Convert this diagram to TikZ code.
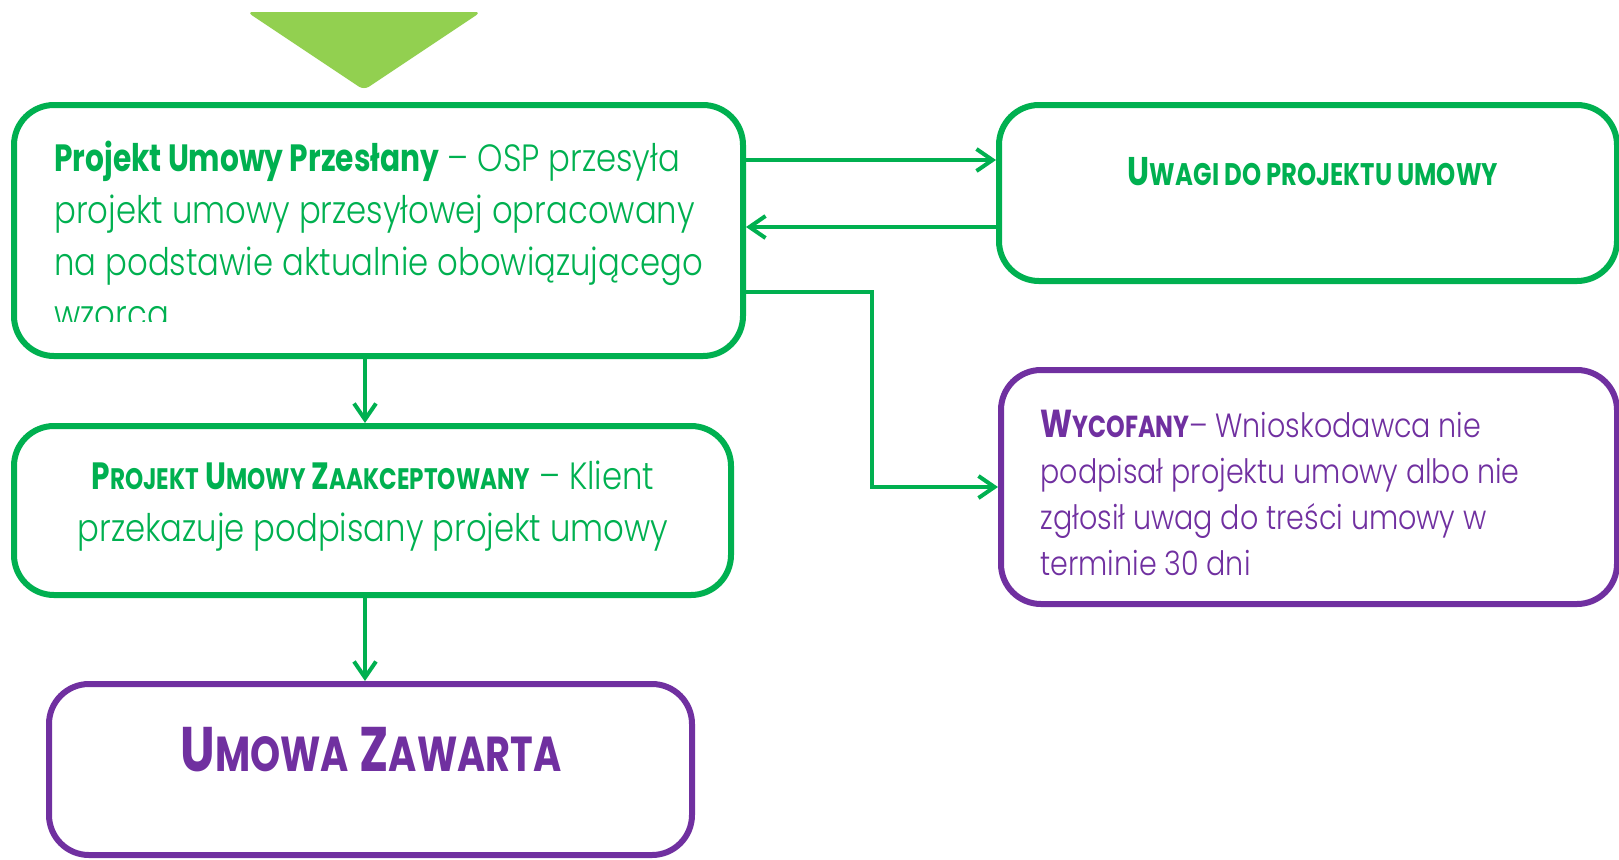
\documentclass[tikz,border=0pt]{standalone}
\usepackage{fontspec}
\setmainfont{Poppins}[UprightFont=* Light,BoldFont=* Bold,UprightFeatures={FakeStretch=0.85},BoldFeatures={FakeStretch=0.78}]
\usetikzlibrary{arrows.meta}
\definecolor{zielony}{HTML}{00B050}
\definecolor{jasnozielony}{HTML}{92D050}
\definecolor{fiolet}{HTML}{7030A0}
\makeatletter
\newcommand\kap[1]{{\dimen@=\f@size pt\dimen@=.78\dimen@\fontsize{\the\dimen@}{\the\baselineskip}\selectfont#1}}
\makeatother
\begin{document}
\begin{tikzpicture}[x=0.5pt,y=-0.5pt,
	ramka/.style={draw=#1,line width=3pt,rounded corners=20pt,inner sep=0pt},
	tekst/.style={inner sep=0pt,text=#1},
	strzalka/.style={zielony,line width=2pt,-{Straight Barb[length=8pt,width=11pt,line width=2pt]}}]
	\useasboundingbox (0,0) rectangle (1619,859);
	\fill[jasnozielony,rounded corners=3pt] (247,12) -- (481,12) -- (364,90) -- cycle;
	\node[ramka=zielony,minimum width=364.5pt,minimum height=125.5pt] (przeslany) at (378.5,230.5) {};
	\node[ramka=zielony,minimum width=309pt,minimum height=88pt] (uwagi) at (1308,193) {};
	\node[ramka=fiolet,minimum width=308pt,minimum height=117pt] (wycofany) at (1309,487) {};
	\node[ramka=zielony,minimum width=358.5pt,minimum height=84.5pt] (zaakceptowany) at (372.5,510.5) {};
	\node[ramka=fiolet,minimum width=321.5pt,minimum height=85.5pt] (zawarta) at (370.5,769.5) {};
	\begin{scope}
		\clip (30,120) rectangle (730,321.5);
		\node[tekst=zielony,anchor=north west,align=left,font=\fontsize{19}{26}\selectfont] (przeslanytxt) at (54,141)
			{\textbf{Projekt Umowy Przesłany} – OSP przesyła\\projekt umowy przesyłowej opracowany\\na podstawie aktualnie obowiązującego\\wzorca};
	\end{scope}
	\node[tekst=zielony,font=\bfseries\fontsize{20}{26}\selectfont] (uwagitxt) at (1313,172) {U\kap{WAGI DO PROJEKTU UMOWY}};
	\node[tekst=zielony,align=center,font=\fontsize{19}{26}\selectfont] (zaakceptowanytxt) at (373,506)
		{\textbf{P\kap{ROJEKT} U\kap{MOWY} Z\kap{AAKCEPTOWANY}} – Klient\\przekazuje podpisany projekt umowy};
	\node[tekst=fiolet,anchor=north west,align=left,font=\fontsize{16.8}{23}\selectfont] (wycofanytxt) at (1040,410)
		{{\fontsize{19.5}{23}\selectfont\textbf{W\kap{YCOFANY}}}– Wnioskodawca nie\\podpisał projektu umowy albo nie\\zgłosił uwag do treści umowy w\\terminie 30 dni};
	\node[tekst=fiolet,font=\bfseries\fontsize{31.5}{36}\selectfont] (zawartatxt) at (371,750) {U\kap{MOWA} Z\kap{AWARTA}};
	\coordinate (pion) at (365,0);
	\coordinate (w1) at (0,160);
	\coordinate (w2) at (0,227);
	\coordinate (zalom) at (872,292);
	\draw[strzalka] (przeslany.east |- w1) -- (uwagi.west |- w1);
	\draw[strzalka] (uwagi.west |- w2) -- (przeslany.east |- w2);
	\draw[strzalka] (przeslany.east |- zalom) -- (zalom) |- (wycofany.west);
	\draw[strzalka] (przeslany.south -| pion) -- (zaakceptowany.north -| pion);
	\draw[strzalka] (zaakceptowany.south -| pion) -- (zawarta.north -| pion);
\end{tikzpicture}
\end{document}
